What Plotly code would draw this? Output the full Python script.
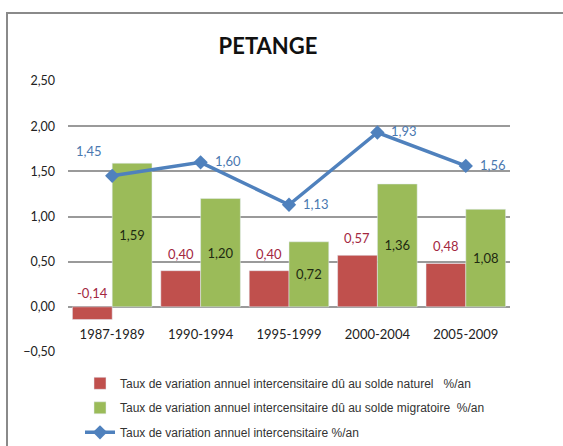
import plotly.graph_objects as go

categories = ["1987-1989", "1990-1994", "1995-1999", "2000-2004", "2005-2009"]
naturel = [-0.14, 0.40, 0.40, 0.57, 0.48]
migratoire = [1.59, 1.20, 0.72, 1.36, 1.08]
total = [1.45, 1.60, 1.13, 1.93, 1.56]

name_nat = "Taux de variation annuel intercensitaire dû au solde naturel   %/an"
name_mig = "Taux de variation annuel intercensitaire dû au solde migratoire  %/an"
name_tot = "Taux de variation annuel intercensitaire %/an"

RED = "#C0504D"
GREEN = "#9BBB59"
BLUE = "#4F81BD"
FONT = "Lato"

fig = go.Figure()
fig.add_trace(go.Bar(
    x=categories, y=naturel, name=name_nat, marker_color=RED,
    legendgroup="a",
))
fig.add_trace(go.Bar(
    x=categories, y=migratoire, name=name_mig, marker_color=GREEN,
    text=[f"{v:.2f}".replace(".", ",") for v in migratoire],
    textposition="inside", insidetextanchor="middle",
    textfont=dict(family=FONT, size=13, color="#1e2a12"),
    legendgroup="b",
))
fig.add_trace(go.Scatter(
    x=categories, y=total, name=name_tot, mode="lines+markers",
    line=dict(color=BLUE, width=3.5),
    marker=dict(symbol="diamond", size=11, color=BLUE),
    legendgroup="c",
))

annotations = []
for c, v in zip(categories, naturel):
    annotations.append(dict(
        x=c, y=max(v, 0), xref="x", yref="y",
        text=f"{v:.2f}".replace(".", ","), showarrow=False,
        xshift=-20, yshift=7 if v > 0 else 4, yanchor="bottom",
        font=dict(family=FONT, size=13, color="#A3283F"),
    ))
for i, (c, v) in enumerate(zip(categories, total)):
    first = i == 0
    annotations.append(dict(
        x=c, y=v, xref="x", yref="y",
        text=f"{v:.2f}".replace(".", ","), showarrow=False,
        xanchor="right" if first else "left",
        xshift=-8 if first else 12, yshift=25 if first else 1,
        font=dict(family=FONT, size=13, color="#4A78B0"),
    ))

fig.update_layout(
    width=563, height=446,
    margin=dict(l=68, r=53, t=81, b=94, autoexpand=False),
    paper_bgcolor="white", plot_bgcolor="white",
    separators=", ",
    barmode="group", bargap=0.1, bargroupgap=0,
    title=dict(text="<b>PETANGE</b>", x=268/563, xref="container", xanchor="center",
               y=1-46/446, yref="container", yanchor="middle",
               font=dict(family=FONT, size=22, color="#111111")),
    font=dict(family=FONT, color="#333333"),
    xaxis=dict(
        anchor="free", position=0.5/3.0, showline=False, ticks="",
        showgrid=False, ticklabelstandoff=18,
        tickfont=dict(family=FONT, size=13, color="#222222"),
    ),
    yaxis=dict(
        range=[-0.5, 2.5], dtick=0.5, tickformat=".2f",
        showgrid=True, gridcolor="#9a9a9a", gridwidth=1.5,
        zeroline=True, zerolinecolor="#9a9a9a", zerolinewidth=1.5,
        showline=False, ticks="", ticklabelstandoff=12,
        tickfont=dict(family=FONT, size=12.5, color="#222222"),
    ),
    legend=dict(
        x=(80-68)/442, xanchor="left", y=-0.062, yanchor="top",
        orientation="v", traceorder="grouped", tracegroupgap=5.5,
        font=dict(family="Liberation Sans", size=12, color="#333333"),
        bgcolor="rgba(0,0,0,0)",
    ),
    annotations=annotations,
    shapes=[dict(
        type="rect", xref="paper", yref="paper",
        x0=(7-68)/442, x1=(600-68)/442, y0=(352-500)/271, y1=(352-13)/271,
        line=dict(color="#8a8a8a", width=2), fillcolor="rgba(0,0,0,0)", layer="below",
    )],
)

fig.write_html("out.html", config={"displayModeBar": False},
               post_script="document.body.style.margin='0';document.body.style.overflow='hidden';")
